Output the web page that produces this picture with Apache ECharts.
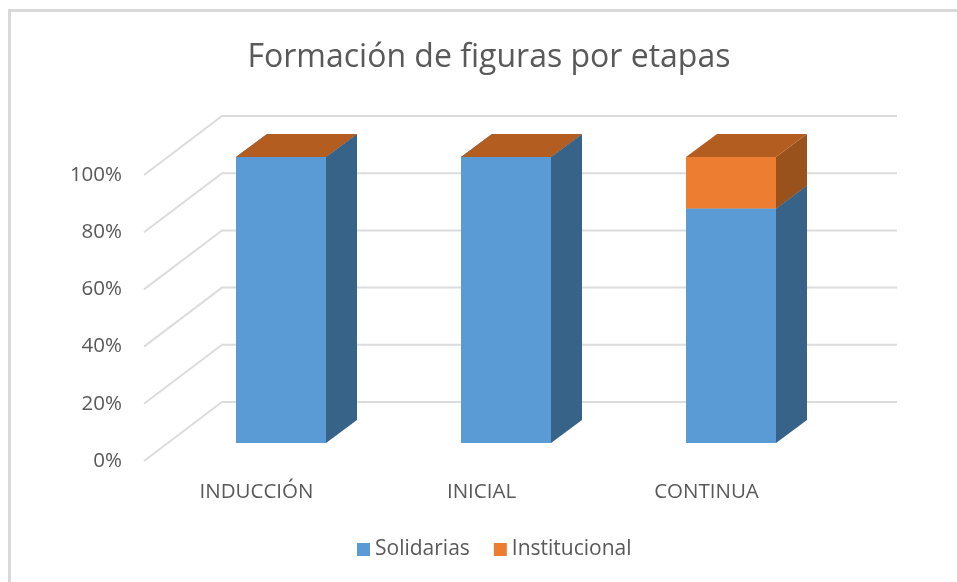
<!DOCTYPE html>
<html>
<head>
<meta charset="utf-8" />
<title>Formación de figuras por etapas</title>
<script src="https://cdn.jsdelivr.net/npm/echarts@6/dist/echarts.min.js"></script>
<style>
  html, body { margin: 0; padding: 0; background: #ffffff; }
  #main { width: 957px; height: 582px; }
</style>
</head>
<body>
<div id="main"></div>
<script>
var categories = ["INDUCCIÓN", "INICIAL", "CONTINUA"];
var solidarias = [100, 100, 82];
var institucional = [0, 0, 18];
var tickValues = [0, 20, 40, 60, 80, 100];

var textColor = "#595959";
var gridColor = "#dcdcdc";
// frente, lado, tapa
var blueFaces = ["#5b9bd5", "#376389", "#3f74a3"];
var orangeFaces = ["#ed7d31", "#99521c", "#b35e20"];

var wallDepth = [78, -59]; //profundidad de las paredes
var barShift = [24.5, -18]; //la barra empieza dentro del suelo
var barDepth = [31, -23];
var barRatio = 0.4;

// [categoria, inicio, fin]
function stackRows(values, below) {
  return values.map(function (v, i) {
    var start = below ? below[i] : 0;
    return [i, start, start + v];
  });
}

function polygon(points, color) {
  return {
    type: "polygon",
    shape: { points: points },
    style: { fill: color, stroke: null },
  };
}

function renderBar(faces) {
  return function (params, api) {
    var cat = api.value(0);
    var low = api.coord([cat, api.value(1)]);
    var high = api.coord([cat, api.value(2)]);
    var w = api.size([1, 0])[0] * barRatio;
    var x0 = low[0] - w / 2 + barShift[0];
    var x1 = x0 + w;
    var y0 = low[1] + barShift[1];
    var y1 = high[1] + barShift[1];
    var dx = barDepth[0];
    var dy = barDepth[1];
    return {
      type: "group",
      children: [
        polygon([[x1, y0], [x1 + dx, y0 + dy], [x1 + dx, y1 + dy], [x1, y1]], faces[1]),
        polygon([[x0, y1], [x1, y1], [x1 + dx, y1 + dy], [x0 + dx, y1 + dy]], faces[2]),
        polygon([[x0, y0], [x1, y0], [x1, y1], [x0, y1]], faces[0]),
      ],
    };
  };
}

function renderWall(params, api) {
  var y = api.coord([0, api.value(0)])[1];
  var left = params.coordSys.x;
  var right = left + params.coordSys.width;
  return {
    type: "polyline",
    shape: {
      points: [
        [left, y],
        [left + wallDepth[0], y + wallDepth[1]],
        [right + wallDepth[0], y + wallDepth[1]],
      ],
    },
    style: { stroke: gridColor, lineWidth: 2, fill: null },
  };
}

var myChart = echarts.init(document.getElementById("main"));

var option = {
  backgroundColor: "#ffffff",
  animation: false,
  textStyle: { fontFamily: "Open Sans" },
  title: {
    text: "Formación de figuras por etapas",
    left: 484,
    top: 37,
    textAlign: "center",
    textStyle: {
      color: textColor,
      fontSize: 32,
      fontWeight: "normal",
      fontFamily: "Open Sans",
    },
  },
  legend: {
    data: ["Solidarias", "Institucional"],
    left: 352,
    top: 534,
    icon: "rect",
    itemWidth: 13,
    itemHeight: 13,
    itemGap: 24,
    selectedMode: false,
    textStyle: { color: textColor, fontSize: 21, fontFamily: "Open Sans" },
  },
  grid: { left: 144, top: 175, width: 675, height: 286 },
  xAxis: {
    type: "category",
    data: categories,
    axisLine: { show: false },
    axisTick: { show: false },
    axisLabel: { color: textColor, fontSize: 20.5, margin: 21, fontFamily: "Open Sans" },
  },
  yAxis: {
    type: "value",
    min: 0,
    max: 100,
    interval: 20,
    axisLine: { show: false },
    axisTick: { show: false },
    splitLine: { show: false },
    axisLabel: {
      color: textColor,
      fontSize: 20.5,
      margin: 22,
      padding: [0, 0, 4, 0],
      formatter: "{value}%",
      fontFamily: "Open Sans",
    },
  },
  graphic: [
    // borde del grafico, solo arriba y a la izquierda
    {
      type: "polyline",
      silent: true,
      shape: { points: [[9.5, 582], [9.5, 10.5], [957, 10.5]] },
      style: { stroke: "#d9d9d9", lineWidth: 3, fill: null },
    },
  ],
  series: [
    {
      name: "paredes",
      type: "custom",
      renderItem: renderWall,
      data: tickValues.map(function (v) { return [v]; }),
      encode: { y: 0 },
      silent: true,
      z: 1,
    },
    {
      name: "Solidarias",
      type: "custom",
      renderItem: renderBar(blueFaces),
      itemStyle: { color: blueFaces[0] },
      data: stackRows(solidarias),
      encode: { x: 0, y: [1, 2] },
      z: 2,
    },
    {
      name: "Institucional",
      type: "custom",
      renderItem: renderBar(orangeFaces),
      itemStyle: { color: orangeFaces[0] },
      data: stackRows(institucional, solidarias),
      encode: { x: 0, y: [1, 2] },
      z: 3,
    },
  ],
};

myChart.setOption(option);
</script>
</body>
</html>
